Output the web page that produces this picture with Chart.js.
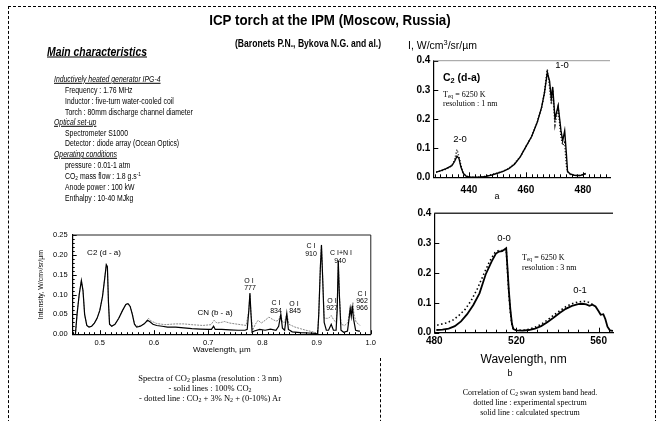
<!DOCTYPE html>
<html><head><meta charset="utf-8">
<script src="https://cdn.jsdelivr.net/npm/chart.js@4.4.0/dist/chart.umd.min.js"></script>
<style>
html,body{margin:0;padding:0;background:#fff;}
body{width:662px;height:421px;position:relative;overflow:hidden;font-family:"Liberation Sans",Arial,sans-serif;color:#000;}
.t{position:absolute;white-space:nowrap;line-height:1;filter:grayscale(100%);}
.c{transform:translate(-50%,-50%);}
.cn{transform:translate(-50%,-50%) scaleX(.86);}
.l{transform:translateY(-50%);}
.ln{transform-origin:0 50%;transform:translateY(-50%) scaleX(.8);}
.serif{font-family:"Liberation Serif","Times New Roman",serif;}
sub,sup{font-size:70%;line-height:0;}
sub{vertical-align:-0.25em;} sup{vertical-align:0.45em;}
canvas{position:absolute;}
.blk{filter:grayscale(100%);}
.blk div{position:absolute;white-space:nowrap;line-height:1;font-size:8.4px;transform-origin:0 50%;transform:translateY(-50%) scaleX(.82);}
.blk .h{font-style:italic;text-decoration:underline;left:54px;}
.blk .i{left:65px;}
.an{font-size:7px;}
</style></head><body>
<div style="position:absolute;left:8px;top:6px;width:646px;height:440px;border:1px dashed #000;"></div>
<div style="position:absolute;left:380px;top:358px;width:0;height:70px;border-left:1px dashed #000;"></div>

<canvas id="c1" width="350" height="130" style="left:30px;top:225px;width:350px;height:130px;"></canvas>
<canvas id="c2" width="230" height="145" style="left:395px;top:50px;width:230px;height:145px;"></canvas>
<canvas id="c3" width="230" height="164" style="left:395px;top:203px;width:230px;height:164px;"></canvas>

<div class="t cn" style="left:330px;top:20px;font-size:15.5px;font-weight:bold;">ICP torch at the IPM (Moscow, Russia)</div>
<div class="t cn" style="left:308px;top:44px;font-size:10px;font-weight:bold;">(Baronets P.N., Bykova N.G. and al.)</div>
<div class="t ln" style="left:47px;top:51px;font-size:13px;font-weight:bold;font-style:italic;text-decoration:underline;">Main characteristics</div>

<div class="blk">
<div class="h" style="top:79px;">Inductively heated generator IPG-4</div>
<div class="i" style="top:90px;">Frequency : 1.76 MHz</div>
<div class="i" style="top:101px;">Inductor : five-turn water-cooled coil</div>
<div class="i" style="top:112px;">Torch : 80mm discharge channel diameter</div>
<div class="h" style="top:122px;">Optical set-up</div>
<div class="i" style="top:133px;">Spectrometer S1000</div>
<div class="i" style="top:143px;">Detector : diode array (Ocean Optics)</div>
<div class="h" style="top:154px;">Operating conditions</div>
<div class="i" style="top:165px;">pressure : 0.01-1 atm</div>
<div class="i" style="top:176px;">CO<sub>2</sub> mass flow : 1.8 g.s<sup>-1</sup></div>
<div class="i" style="top:187px;">Anode power : 100 kW</div>
<div class="i" style="top:198px;">Enthalpy : 10-40 MJkg</div>
</div>

<!-- left spectrum annotations -->
<div class="t c" style="left:104px;top:253px;font-size:8px;">C2 (d - a)</div>
<div class="t c" style="left:215px;top:313px;font-size:8px;">CN (b - a)</div>
<div class="t c an" style="left:249px;top:280px;">O I</div>
<div class="t c an" style="left:250px;top:287px;">777</div>
<div class="t c an" style="left:276px;top:302px;">C I</div>
<div class="t c an" style="left:276px;top:310px;">834</div>
<div class="t c an" style="left:294px;top:303px;">O I</div>
<div class="t c an" style="left:295px;top:310px;">845</div>
<div class="t c an" style="left:311px;top:245px;">C I</div>
<div class="t c an" style="left:311px;top:253px;">910</div>
<div class="t c an" style="left:341px;top:252px;">C I+N I</div>
<div class="t c an" style="left:340px;top:260px;">940</div>
<div class="t c an" style="left:332px;top:300px;">O I</div>
<div class="t c an" style="left:332px;top:307px;">927</div>
<div class="t c an" style="left:362px;top:293px;">C I</div>
<div class="t c an" style="left:362px;top:300px;">962</div>
<div class="t c an" style="left:362px;top:307px;">966</div>

<div class="t c serif" style="left:210px;top:378px;font-size:8.5px;">Spectra of CO<sub>2</sub> plasma (resolution : 3 nm)</div>
<div class="t c serif" style="left:210px;top:388px;font-size:8.5px;">- solid lines : 100% CO<sub>2</sub></div>
<div class="t c serif" style="left:210px;top:398px;font-size:8.5px;">- dotted line : CO<sub>2</sub> + 3% N<sub>2</sub> + (0-10%) Ar</div>

<!-- top right -->
<div class="t l" style="left:408px;top:45px;font-size:10.5px;">I, W/cm<sup>3</sup>/sr/µm</div>
<div class="t l" style="left:443px;top:77px;font-size:10.5px;font-weight:bold;">C<sub>2</sub> (d-a)</div>
<div class="t l serif" style="left:443px;top:95px;font-size:8px;">T<sub>eq</sub> = 6250 K</div>
<div class="t l serif" style="left:443px;top:104px;font-size:8px;">resolution : 1 nm</div>
<div class="t c" style="left:460px;top:139px;font-size:9.5px;">2-0</div>
<div class="t c" style="left:562px;top:65px;font-size:9.5px;">1-0</div>
<div class="t c" style="left:497px;top:196px;font-size:9px;">a</div>

<!-- bottom right -->
<div class="t c" style="left:504px;top:238px;font-size:9.5px;">0-0</div>
<div class="t l serif" style="left:522px;top:258px;font-size:8px;">T<sub>eq</sub> = 6250 K</div>
<div class="t l serif" style="left:522px;top:268px;font-size:8px;">resolution : 3 nm</div>
<div class="t c" style="left:580px;top:290px;font-size:9.5px;">0-1</div>
<div class="t c" style="left:510px;top:373px;font-size:9px;">b</div>

<div class="t c serif" style="left:530px;top:393px;font-size:8px;">Correlation of C<sub>2</sub> swan system band head.</div>
<div class="t c serif" style="left:530px;top:403px;font-size:8px;">dotted line : experimental spectrum</div>
<div class="t c serif" style="left:530px;top:413px;font-size:8px;">solid line : calculated spectrum</div>

<script>
// ---- Data: CO2 plasma spectrum (µm, W/cm3/sr/µm) ----
const leftSolidWl = [0.455,0.458,0.462,0.466,0.469,0.472,0.476,0.480,0.485,0.490,0.495,0.500,0.505,0.509,0.512,0.514,0.516,0.518,0.522,0.528,0.535,0.542,0.548,0.552,0.556,0.560,0.564,0.568,0.575,0.582,0.588,0.592,0.598,0.605,0.615,0.625,0.640,0.655,0.670,0.685,0.700,0.706,0.710,0.713,0.725,0.740,0.755,0.768,0.772,0.775,0.777,0.779,0.781,0.785,0.795,0.805,0.815,0.825,0.830,0.834,0.837,0.841,0.845,0.848,0.855,0.870,0.885,0.898,0.902,0.904,0.907,0.909,0.911,0.914,0.918,0.922,0.927,0.931,0.936,0.938,0.940,0.942,0.945,0.950,0.957,0.960,0.962,0.964,0.966,0.968,0.972,0.978,0.980];
const leftSolid = [0,0.05,0.10,0.135,0.11,0.05,0.022,0.018,0.02,0.028,0.04,0.06,0.095,0.14,0.175,0.17,0.08,0.025,0.02,0.025,0.04,0.06,0.075,0.077,0.07,0.05,0.025,0.018,0.02,0.026,0.035,0.032,0.025,0.022,0.02,0.018,0.018,0.016,0.014,0.013,0.012,0.012,0.02,0.012,0.012,0.011,0.01,0.01,0.012,0.06,0.103,0.05,0.005,0.008,0.012,0.01,0.013,0.01,0.02,0.05,0.015,0.01,0.052,0.012,0.006,0.004,0.003,0.002,0,0.05,0.17,0.225,0.15,0.03,0.01,0.01,0.025,0.01,0.01,0.06,0.185,0.1,0.01,0.005,0.008,0.04,0.065,0.045,0.072,0.04,0.01,0.008,0.008];
const leftDotWl = [0.455,0.458,0.462,0.466,0.469,0.472,0.476,0.480,0.485,0.490,0.495,0.500,0.505,0.509,0.512,0.514,0.516,0.518,0.522,0.528,0.535,0.542,0.548,0.552,0.556,0.560,0.564,0.568,0.575,0.580,0.585,0.590,0.595,0.605,0.620,0.640,0.655,0.670,0.690,0.705,0.711,0.716,0.725,0.730,0.740,0.750,0.760,0.770,0.775,0.777,0.779,0.782,0.787,0.792,0.798,0.805,0.812,0.818,0.825,0.830,0.834,0.837,0.841,0.845,0.849,0.860,0.870,0.880,0.890,0.898,0.902,0.904,0.907,0.909,0.911,0.914,0.918,0.922,0.927,0.932,0.936,0.938,0.940,0.942,0.945,0.952,0.958,0.961,0.963,0.965,0.967,0.969,0.973,0.978,0.980];
const leftDot = [0,0.05,0.10,0.135,0.11,0.05,0.022,0.018,0.02,0.028,0.04,0.06,0.095,0.14,0.175,0.17,0.08,0.025,0.02,0.025,0.04,0.06,0.075,0.078,0.071,0.052,0.027,0.02,0.022,0.025,0.03,0.04,0.033,0.027,0.024,0.026,0.026,0.024,0.022,0.024,0.035,0.028,0.03,0.032,0.028,0.026,0.024,0.022,0.06,0.103,0.05,0.01,0.025,0.035,0.028,0.035,0.043,0.038,0.033,0.035,0.05,0.03,0.03,0.052,0.025,0.018,0.014,0.01,0.007,0.004,0,0.05,0.17,0.225,0.15,0.04,0.04,0.04,0.047,0.035,0.03,0.07,0.185,0.1,0.025,0.022,0.03,0.06,0.07,0.06,0.08,0.05,0.03,0.025,0.022];
const leftXTicks = {min:0.45, max:1.0, step:0.1};
const leftYTicks = {min:0, max:0.25, step:0.05};

// ---- Data: C2 (d-a) 1 nm resolution (nm) ----
const topCalcWl = [428.5,430,432,434,435,435.8,436.5,437.2,438,439,440,442,444,446,448,450,452,454,456,458,460,462,464,465.5,466.5,467.5,468.3,468.9,469.4,470.2,471.3,472.3,472.9,473.6,474.2,474.6,475.5,477,479,481];
const topCalc = [0.018,0.022,0.03,0.04,0.055,0.072,0.065,0.035,0.014,0.004,0.001,0,0,0.003,0.008,0.014,0.02,0.03,0.045,0.07,0.105,0.14,0.19,0.24,0.29,0.36,0.33,0.27,0.31,0.2,0.245,0.16,0.125,0.16,0.08,0.02,0.012,0.007,0.006,0.013];
const topExpWl = [428.5,430,432,434,435,435.8,436.5,437.2,438,439,440,442,444,446,448,450,452,454,456,458,460,462,464,465.5,466.5,467.5,468.3,468.9,469.4,470.2,471.3,472.3,472.9,473.6,474.2,474.6,475.5,477,479,481];
const topExp = [0.017,0.022,0.028,0.04,0.06,0.095,0.07,0.04,0.015,0.004,0.001,0,0.001,0.004,0.009,0.015,0.021,0.03,0.048,0.07,0.105,0.14,0.19,0.24,0.29,0.37,0.31,0.25,0.3,0.18,0.24,0.14,0.11,0.12,0.04,0.02,0.01,0.006,0.006,0.012];

// ---- Data: C2 swan 3 nm resolution (nm) ----
const botCalcWl = [481,484,487,490,493,496,499,502,505,508,510,511.5,513,514,515,515.6,516.3,517,517.8,518.5,520,523,526,529,532,535,538,541,544,547,550,552,554,555.5,557,558.5,560,561,562.3,563.3,564.3,565.5,567];
const botCalc = [0.009,0.01,0.014,0.022,0.038,0.062,0.093,0.132,0.195,0.24,0.265,0.272,0.273,0.278,0.283,0.22,0.14,0.08,0.03,0.012,0.008,0.007,0.009,0.014,0.022,0.035,0.05,0.066,0.08,0.09,0.096,0.097,0.095,0.09,0.094,0.088,0.072,0.06,0.062,0.045,0.02,0.008,0.006];
const botExpWl = [479.5,483,486,489,492,495,498,501,504,507,509.5,511.5,513.5,515,515.6,516.3,517,517.8,518.5,520,523,526,529,532,535,538,541,544,547,550,553,555,557];
const botExp = [0.022,0.028,0.033,0.042,0.058,0.078,0.108,0.148,0.195,0.24,0.268,0.276,0.275,0.28,0.21,0.13,0.07,0.025,0.012,0.009,0.008,0.011,0.018,0.028,0.042,0.058,0.073,0.087,0.097,0.103,0.105,0.102,0.095];

const FAM = '"Liberation Sans", Arial, sans-serif';
const xy = (xs, ys) => xs.map((x, i) => ({x, y: ys[i]}));

const axisDeco = {
  id: 'axisDeco',
  afterDatasetsDraw(chart, args, o) {
    const {ctx, chartArea: a, scales: {x, y}} = chart;
    const mult = (scale, step) => { const r = []; const s = Math.ceil(scale.min / step - 1e-6), e = Math.floor(scale.max / step + 1e-6); for (let k = s; k <= e; k++) r.push(k * step); return r; };
    ctx.save();
    ctx.strokeStyle = '#000'; ctx.lineWidth = 1;
    ctx.beginPath();
    if (o.xMinor) mult(x, o.xMinor).forEach(v => { const p = Math.round(x.getPixelForValue(v)) + 0.5; ctx.moveTo(p, a.bottom); ctx.lineTo(p, a.bottom - o.minorLen); });
    if (o.yMinor) mult(y, o.yMinor).forEach(v => { const p = Math.round(y.getPixelForValue(v)) + 0.5; ctx.moveTo(a.left, p); ctx.lineTo(a.left + o.minorLen, p); });
    x.ticks.forEach(t => { const p = Math.round(x.getPixelForValue(t.value)) + 0.5; ctx.moveTo(p, a.bottom); ctx.lineTo(p, a.bottom - o.majorLen); });
    y.ticks.forEach(t => { const p = Math.round(y.getPixelForValue(t.value)) + 0.5; ctx.moveTo(a.left, p); ctx.lineTo(a.left + o.majorLen, p); });
    ctx.stroke();
    if (o.frame) {
      ctx.strokeStyle = o.frame.color; ctx.lineWidth = o.frame.width;
      ctx.beginPath(); ctx.moveTo(a.left, a.top); ctx.lineTo(a.right, a.top);
      if (o.frame.right) ctx.lineTo(a.right, a.bottom);
      ctx.stroke();
    }
    ctx.restore();
  }
};

function axis(range, fmt, fontSize, bold, pad, fit, extra) {
  return Object.assign({
    type: 'linear', min: range.min, max: range.max,
    afterFit: fit,
    ticks: {stepSize: range.step, includeBounds: false, autoSkip: false, maxRotation: 0, padding: pad, color: '#000',
      font: {size: fontSize, family: FAM, weight: bold ? 'bold' : 'normal'}, callback: v => Number(v).toFixed(fmt)},
    grid: {display: false, drawTicks: false},
    border: {display: true, color: '#000', width: 1.2}
  }, extra || {});
}

const base = {responsive: false, animation: false, events: []};

// Left spectrum
new Chart(document.getElementById('c1'), {
  type: 'line',
  data: {datasets: [
    {data: xy(leftSolidWl, leftSolid), borderColor: '#000', borderWidth: 1.2, pointRadius: 0, tension: 0},
    {data: xy(leftDotWl, leftDot), borderColor: '#6a6a6a', borderWidth: 0.8, borderDash: [2, 1], pointRadius: 0, tension: 0}
  ]},
  options: Object.assign({}, base, {
    layout: {padding: {left: 0, top: 10, right: 7, bottom: 0}},
    plugins: {legend: {display: false}, tooltip: {enabled: false},
      axisDeco: {xMinor: 0.01, yMinor: 0.01, minorLen: 2, majorLen: 4, frame: {color: '#222', width: 1, right: true}}},
    scales: {
      x: axis(leftXTicks, 1, 7.5, false, 4, s => { s.height = 20.8; },
        {title: {display: true, text: 'Wavelength, µm', color: '#000', font: {size: 8, family: FAM}, padding: {top: 0, bottom: 0}}}),
      y: axis(leftYTicks, 2, 7.5, false, 5, s => { s.width = 42.7; },
        {title: {display: true, text: 'Intensity, W/cm³/sr/µm', color: '#000', font: {size: 7, family: FAM}, padding: {top: 7, bottom: 0}}})
    }
  }),
  plugins: [axisDeco]
});

// Top right
new Chart(document.getElementById('c2'), {
  type: 'line',
  data: {datasets: [
    {data: xy(topCalcWl, topCalc), borderColor: '#000', borderWidth: 1.4, pointRadius: 0, tension: 0},
    {data: xy(topExpWl, topExp), borderColor: '#000', borderWidth: 1.5, borderDash: [1, 2], pointRadius: 0, tension: 0}
  ]},
  options: Object.assign({}, base, {
    layout: {padding: {left: 0, top: 10.7, right: 15, bottom: 0}},
    plugins: {legend: {display: false}, tooltip: {enabled: false},
      axisDeco: {xMinor: 2, minorLen: 3, majorLen: 5, frame: {color: '#999', width: 1, right: false}}},
    scales: {
      x: axis({min: 427.5, max: 489.5, step: 20}, 0, 10, true, 7, s => { s.height = 17.7; }),
      y: axis({min: 0, max: 0.4, step: 0.1}, 1, 10, true, 3, s => { s.width = 38.3; })
    }
  }),
  plugins: [axisDeco]
});

// Bottom right
new Chart(document.getElementById('c3'), {
  type: 'line',
  data: {datasets: [
    {data: xy(botCalcWl, botCalc), borderColor: '#000', borderWidth: 1.8, pointRadius: 0, tension: 0},
    {data: xy(botExpWl, botExp), borderColor: '#000', borderWidth: 1.6, borderDash: [1.5, 2.5], pointRadius: 0, tension: 0}
  ]},
  options: Object.assign({}, base, {
    layout: {padding: {left: 0, top: 10.3, right: 12, bottom: 0}},
    plugins: {legend: {display: false}, tooltip: {enabled: false},
      axisDeco: {xMinor: 5, minorLen: 3, majorLen: 5, frame: {color: '#333', width: 1.5, right: false}}},
    scales: {
      x: axis({min: 480, max: 567, step: 40}, 0, 10, true, 3, s => { s.height = 34.3; },
        {title: {display: true, text: 'Wavelength, nm', color: '#000', font: {size: 12, family: FAM}, padding: {top: 0, bottom: 0}}}),
      y: axis({min: 0, max: 0.4, step: 0.1}, 1, 10, true, 3, s => { s.width = 39.3; })
    }
  }),
  plugins: [axisDeco]
});
</script>
</body></html>
